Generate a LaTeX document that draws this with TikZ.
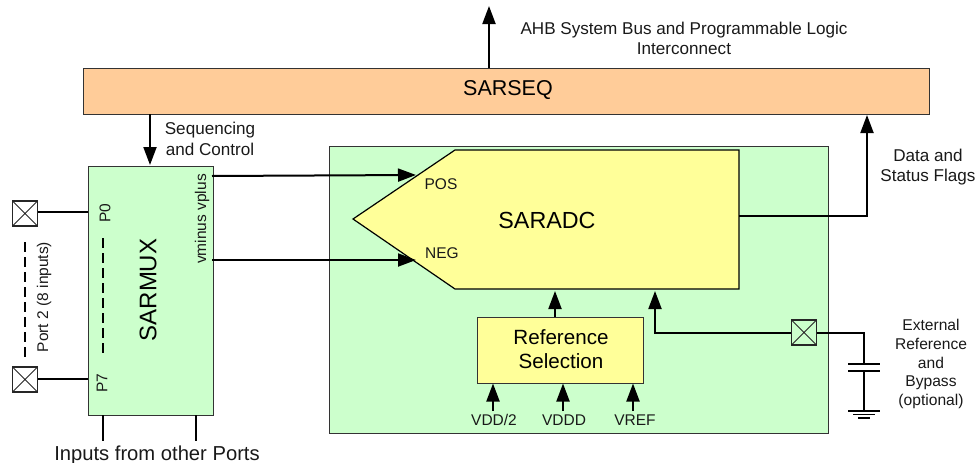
\documentclass[tikz,border=0pt]{standalone}
\usepackage{fontspec}
\setmainfont{Liberation Sans}
\usetikzlibrary{arrows.meta}
\definecolor{seqcol}{HTML}{FFCC99}
\definecolor{muxcol}{HTML}{CCFFCC}
\definecolor{adccol}{HTML}{FFFF99}
\tikzset{
	blockbox/.style={draw=black!80,line width=1.2pt,inner sep=0pt,anchor=north west},
	padbox/.style={draw=black!85,line width=1.2pt,minimum size=25pt,inner sep=0pt,
		path picture={\draw[line width=1pt] (path picture bounding box.north west) -- (path picture bounding box.south east)
			(path picture bounding box.north east) -- (path picture bounding box.south west);}},
	wire/.style={line width=2pt},
	sig/.style={wire,-{Triangle[length=18pt,width=13pt]}},
	smalltext/.style={font=\fontsize{17.1}{20.5}\selectfont,align=center,text=black!90},
	tinytext/.style={font=\fontsize{15.5}{18}\selectfont,text=black!90}
}
\begin{document}
\begin{tikzpicture}[x=1pt,y=-1pt]
	\useasboundingbox (0,0) rectangle (975,463);

	%blocks
	\node[blockbox,fill=seqcol,minimum width=846pt,minimum height=46pt] (sarseq) at (83,68) {};
	\node[font=\fontsize{21.5}{24}\selectfont] (seqlabel) at (508,90.5) {SARSEQ};
	\node[blockbox,fill=muxcol,minimum width=125pt,minimum height=249pt] (sarmux) at (87.5,166) {};
	\node[blockbox,fill=muxcol,minimum width=499pt,minimum height=287pt] (adcarea) at (329,146) {};
	\node[blockbox,fill=adccol,minimum width=166pt,minimum height=66pt] (refsel) at (477,317) {};
	\draw[line width=1.2pt,fill=adccol] (353,219) -- (455,150) -- (739,150) -- (739,289) -- (455,289) -- cycle; %SARADC outline

	%block labels
	\node[rotate=90,font=\fontsize{24}{26}\selectfont] (muxlabel) at (148,290) {SARMUX};
	\node[font=\fontsize{23.3}{26}\selectfont] (adclabel) at (547,220) {SARADC};
	\node[font=\fontsize{20.6}{24}\selectfont,align=center] (reflabel) at (561,349) {Reference\\Selection};
	\node[tinytext] (poslabel) at (441,184) {POS};
	\node[tinytext] (neglabel) at (442,253) {NEG};
	\node[tinytext,rotate=90] (pzero) at (105,213) {P0};
	\node[tinytext,rotate=90] (pseven) at (102,383) {P7};
	\node[tinytext,rotate=90] (vlabel) at (202,219) {vminus vplus};

	%pads
	\node[padbox] (padzero) at (25,213.5) {};
	\node[padbox] (padseven) at (25,379.5) {};
	\node[padbox] (padext) at (804,332.5) {};

	%free ends
	\coordinate (busend) at (489,6);
	\coordinate (busstart) at (489,68);
	\coordinate (seqout) at (150,114);
	\coordinate (seqin) at (150,165);
	\coordinate (posout) at (212,176);
	\coordinate (posin) at (416,175);
	\coordinate (negout) at (212,260);
	\coordinate (negin) at (416,260);
	\coordinate (dataout) at (739,216);
	\coordinate (datain) at (867,115);
	\coordinate (refout) at (555,317);
	\coordinate (refin) at (555,291);
	\coordinate (extin) at (655,291);
	\coordinate (capjoin) at (864,333);
	\coordinate (captop) at (864,364);
	\coordinate (capbot) at (864,371);
	\coordinate (gnd) at (864,411);
	\coordinate (muxzero) at (87.5,212);
	\coordinate (muxseven) at (87.5,379);

	%connectors
	\draw[sig] (busstart) -- (busend);
	\draw[sig] (seqout) -- (seqin);
	\draw[sig] (posout) -- (posin);
	\draw[sig] (negout) -- (negin);
	\draw[sig] (dataout) -| (datain);
	\draw[sig] (refout) -- (refin);
	\draw[sig] (padext.west |- capjoin) -| (extin);
	\draw[wire] (padzero.east |- muxzero) -- (muxzero);
	\draw[wire] (padseven.east |- muxseven) -- (muxseven);

	%capacitor and ground
	\draw[wire] (padext.east |- capjoin) -- (capjoin) -- (captop);
	\draw[wire] (capbot) -- (gnd);
	\draw[wire] (848,364) -- (880,364);
	\draw[wire] (848,371) -- (880,371);
	\draw[wire] (848,411) -- (880,411);
	\draw[wire,line width=1.2pt] (853,414.5) -- (875,414.5);
	\draw[wire,line width=1.2pt] (858,418) -- (870,418);

	%reference inputs
	\foreach \name/\xpos/\lx/\txt in {vddh/493/494/{VDD/2},vddd/563/564/VDDD,vref/633/635/VREF}{
		\node[tinytext] (\name) at (\lx,420) {\txt};
		\coordinate (\name start) at (\xpos,411);
		\coordinate (\name end) at (\xpos,383.5);
		\draw[sig] (\name start) -- (\name end);
	}

	%dashes and other ports
	\draw[wire,dash pattern=on 10pt off 5pt] (25,242) -- (25,358);
	\draw[wire,dash pattern=on 10pt off 5pt] (103,238) -- (103,354);
	\draw[wire] (103,415) -- (103,441);
	\draw[wire] (196,415) -- (196,441);

	%other labels
	\node[smalltext] (ahb) at (684,38.5) {AHB System Bus and Programmable Logic\\Interconnect};
	\node[smalltext] (seqctl) at (210,139) {Sequencing\\and Control};
	\node[smalltext] (dataflags) at (928,167) {Data and\\Status Flags};
	\node[tinytext,rotate=90] (portlabel) at (44,297) {Port 2 (8 inputs)};
	\node[tinytext,align=center,font=\fontsize{15.6}{18.7}\selectfont] (extlabel) at (931,364) {External\\Reference\\and\\Bypass\\(optional)};
	\node[font=\fontsize{20.2}{22}\selectfont,text=black!90] (otherports) at (157,455) {Inputs from other Ports};
\end{tikzpicture}
\end{document}
